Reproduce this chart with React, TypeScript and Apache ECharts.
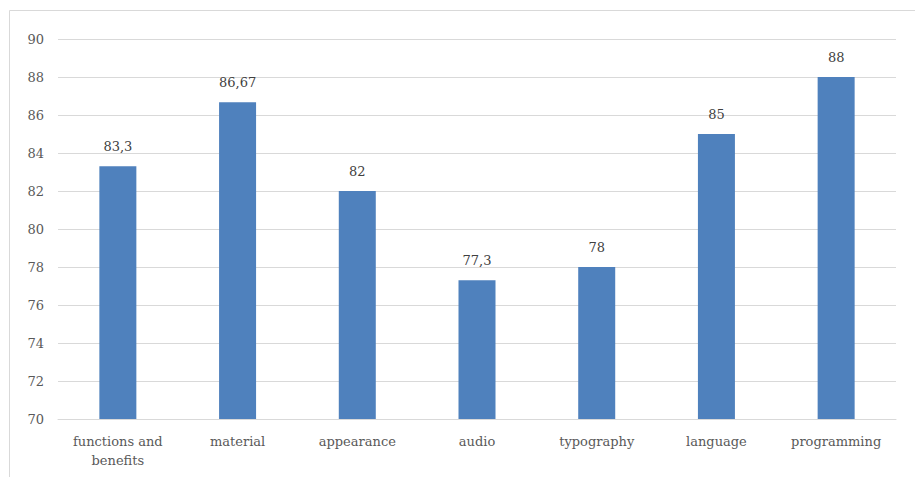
import React, { useEffect, useRef } from "react";
import * as echarts from "echarts";

const categories = [
  "functions and\nbenefits",
  "material",
  "appearance",
  "audio",
  "typography",
  "language",
  "programming",
];
const values = [83.3, 86.67, 82, 77.3, 78, 85, 88];
const yMin = 70;
const yMax = 90;
const yInterval = 2;

export default function App() {
  const ref = useRef<HTMLDivElement>(null);
  useEffect(() => {
    if (!ref.current) return;
    const chart = echarts.init(ref.current, null, { renderer: "svg" });
    const font = "'DejaVu Serif', 'Liberation Serif', serif";
    chart.setOption({
      animation: false,
      textStyle: { fontFamily: font },
      graphic: [
        {
          type: "rect",
          shape: { x: 9.5, y: 10.5, width: 920, height: 480 },
          style: { fill: "none", stroke: "#d9d9d9", lineWidth: 1 },
          silent: true,
        },
      ],
      grid: { left: 58, right: 19, top: 39, bottom: 58, containLabel: false },
      xAxis: {
        type: "category",
        data: categories,
        axisLine: { show: true, lineStyle: { color: "#d9d9d9", width: 1 } },
        axisTick: { show: false },
        axisLabel: {
          color: "#595959",
          fontSize: 13,
          fontFamily: font,
          margin: 13,
          lineHeight: 19,
          interval: 0,
        },
      },
      yAxis: {
        type: "value",
        min: yMin,
        max: yMax,
        interval: yInterval,
        axisLine: { show: false },
        axisTick: { show: false },
        splitLine: { lineStyle: { color: "#d9d9d9", width: 1 } },
        axisLabel: {
          color: "#595959",
          fontSize: 13,
          fontFamily: font,
          margin: 14,
        },
      },
      series: [
        {
          type: "bar",
          data: values,
          barWidth: 37,
          itemStyle: { color: "#4f81bd" },
          label: {
            show: true,
            position: "top",
            distance: 13,
            color: "#404040",
            fontSize: 13,
            fontFamily: font,
            formatter: (p: any) => String(p.value).replace(".", ","),
          },
        },
      ],
    });
    return () => chart.dispose();
  }, []);
  return (
    <div
      ref={ref}
      style={{ position: "fixed", left: 0, top: 0, width: 915, height: 477, background: "#fff" }}
    />
  );
}
